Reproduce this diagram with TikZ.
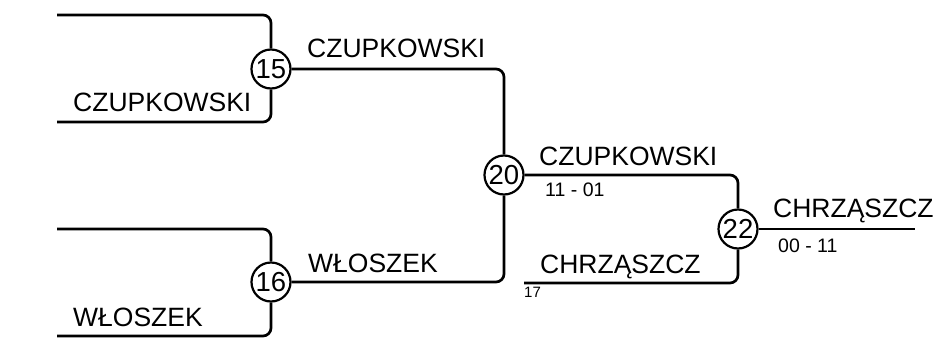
\documentclass[tikz,border=0pt]{standalone}
\usepackage{fontspec}
\setmainfont{Liberation Sans}
\begin{document}
\begin{tikzpicture}[x=1pt,y=-1pt,
  wire/.style={line width=2.7pt, rounded corners=8pt},
  matchno/.style={circle, draw, line width=2.2pt, minimum size=39pt, inner sep=0pt, font=\fontsize{27.5}{28}\selectfont},
  pname/.style={anchor=base west, inner sep=0pt, font=\fontsize{26.5}{28}\selectfont},
  pscore/.style={anchor=base west, inner sep=0pt, font=\fontsize{19.5}{20}\selectfont},
  pseed/.style={anchor=base west, inner sep=0pt, font=\fontsize{15}{16}\selectfont}]
\useasboundingbox (0,0) rectangle (938,338);
% match circles
\node[matchno] (m15) at (271,69) {15};
\node[matchno] (m16) at (271,282) {16};
\node[matchno] (m20) at (504,175) {20};
\node[matchno] (m22) at (738,229) {22};
% free ends
\coordinate (a15) at (57,15);
\coordinate (b15) at (57,122);
\coordinate (a16) at (57,229);
\coordinate (b16) at (57,336);
\coordinate (b22) at (524,283);
\coordinate (w22) at (915,229);
% connectors
\draw[wire] (a15) -| (m15.north);
\draw[wire] (b15) -| (m15.south);
\draw[wire] (a16) -| (m16.north);
\draw[wire] (b16) -| (m16.south);
\draw[wire] (m15.east) -| (m20.north);
\draw[wire] (m16.east) -| (m20.south);
\draw[wire] (m20.east) -| (m22.north);
\draw[wire] (b22) -| (m22.south);
\draw[wire] (m22.east) -- (w22);
% labels
\node[pname] (t1) at (73,111) {CZUPKOWSKI};
\node[pname] (t2) at (73,326) {WŁOSZEK};
\node[pname] (t3) at (307,57) {CZUPKOWSKI};
\node[pname] (t4) at (308,272) {WŁOSZEK};
\node[pname] (t5) at (539,165) {CZUPKOWSKI};
\node[pscore] (s1) at (545,196) {11 - 01};
\node[pname] (t6) at (540,273) {CHRZĄSZCZ};
\node[pseed] (s2) at (524,297) {17};
\node[pname] (t7) at (773,217) {CHRZĄSZCZ};
\node[pscore] (s3) at (778,252) {00 - 11};
\end{tikzpicture}
\end{document}
